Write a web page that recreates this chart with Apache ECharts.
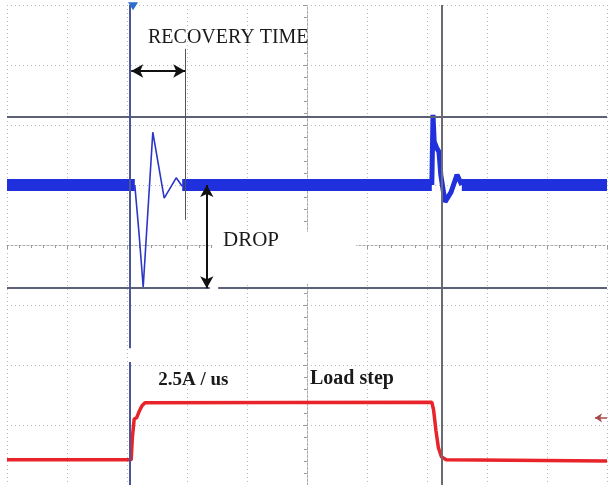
<!DOCTYPE html>
<html>
<head>
<meta charset="utf-8">
<script src="https://cdn.jsdelivr.net/npm/echarts@6/dist/echarts.min.js"></script>
<style>
html, body { margin: 0; padding: 0; background: #fff; }
#ec1 { width: 609px; height: 485px; }
</style>
</head>
<body>
<div id="ec1"></div>
<script>
// scope screen in divisions: x -5..5, y -4..4

// output voltage (blue), steady band
var vBandLeft = [[-5, 1.0], [-2.87, 1.0]];
var vBandMid = [[-2.08, 1.0], [2.08, 1.0]];
var vBandRight = [[2.58, 1.0], [5, 1.0]];
// output voltage transients
var vStepUp = [[-2.87, 1.0], [-2.80, 0.2], [-2.73, -0.70], [-2.57, 1.88], [-2.38, 0.78], [-2.18, 1.12], [-2.08, 0.98]];
var vStepDown = [[2.08, 1.0], [2.10, 2.17], [2.12, 1.72], [2.16, 1.62], [2.20, 1.55], [2.23, 1.17], [2.30, 0.72], [2.40, 0.88], [2.50, 1.17], [2.58, 1.0]];

// load current (red)
var iLoad = [[-5, -3.58], [-2.93, -3.58], [-2.91, -3.20], [-2.88, -2.90], [-2.84, -2.88], [-2.80, -2.78],
             [-2.75, -2.68], [-2.70, -2.63], [2.08, -2.62], [2.11, -2.75], [2.15, -3.10], [2.19, -3.38],
             [2.24, -3.53], [2.32, -3.58], [5, -3.60]];

// cursors
var cursorsX = [-2.95, 2.25];
var cursorsY = [2.13, -0.72];
var recoveryX = [-2.93, -2.03];
var recoveryY = 2.9;
var dropX = -1.67;
var dropY = [1.0, -0.72];

var labels = [
    {text: 'RECOVERY TIME', x: -2.65, y: 3.45, bold: false, size: 20},
    {text: 'DROP', x: -1.40, y: 0.08, bold: false, size: 21},
    {text: '2.5A / us', x: -2.48, y: -2.25, bold: true, size: 19},
    {text: 'Load step', x: 0.05, y: -2.23, bold: true, size: 20}
];

var myCharts = echarts.init(document.getElementById('ec1'));

var cursorLine = {color: '#5c6178', width: 2, type: 'solid'};

option = {
    backgroundColor: '#fff',
    animation: false,
    grid: {left: 7, right: 2, top: 5, bottom: 0},
    xAxis: {
        type: 'value', min: -5, max: 5, interval: 1,
        axisLabel: {show: false},
        axisLine: {show: true, onZero: true, lineStyle: {color: '#a8a8a8', type: [2, 2]}},
        axisTick: {show: true, length: 4, inside: false, lineStyle: {color: '#999'}},
        minorTick: {show: true, splitNumber: 5, length: 3, lineStyle: {color: '#999'}},
        splitLine: {show: true, lineStyle: {color: '#b8b8b8', type: [1, 3]}}
    },
    yAxis: {
        type: 'value', min: -4, max: 4, interval: 1,
        axisLabel: {show: false},
        axisLine: {show: true, onZero: true, lineStyle: {color: '#a8a8a8', type: [2, 2]}},
        axisTick: {show: true, length: 4, lineStyle: {color: '#999'}},
        minorTick: {show: true, splitNumber: 5, length: 3, lineStyle: {color: '#999'}},
        splitLine: {show: true, lineStyle: {color: '#b8b8b8', type: [1, 3]}}
    },
    series: [
        {
            // white box behind DROP label
            type: 'line', data: [], silent: true,
            markArea: {
                silent: true,
                itemStyle: {color: '#fff'},
                data: [[{coord: [-1.58, 0.22]}, {coord: [0.82, -0.65]}]]
            }
        },
        {
            type: 'line', data: [], silent: true,
            markLine: {
                silent: true, symbol: ['none', 'none'], label: {show: false},
                lineStyle: cursorLine,
                data: [
                    [{coord: [-5, cursorsY[0]]}, {coord: [5, cursorsY[0]]}],
                    [{coord: [-5, cursorsY[1]]}, {coord: [-1.62, cursorsY[1]]}],
                    [{coord: [-1.48, cursorsY[1]]}, {coord: [5, cursorsY[1]]}],
                    [{coord: [cursorsX[0], 4], lineStyle: {color: '#4b569a'}}, {coord: [cursorsX[0], -1.72]}],
                    [{coord: [cursorsX[0], -1.95], lineStyle: {color: '#4b569a'}}, {coord: [cursorsX[0], -4]}],
                    [{coord: [cursorsX[1], 4], lineStyle: {color: '#6a6a72'}}, {coord: [cursorsX[1], -4]}],
                    [{coord: [recoveryX[1], 3.27], lineStyle: {color: '#555', width: 1}}, {coord: [recoveryX[1], 0.42]}]
                ]
            }
        },
        {
            type: 'line', data: iLoad, showSymbol: false, smooth: false,
            lineStyle: {color: '#e8242a', width: 3.5}
        },
        {
            type: 'line', data: vBandLeft, showSymbol: false,
            lineStyle: {color: '#1f30dc', width: 12, cap: 'butt'}
        },
        {
            type: 'line', data: vBandMid, showSymbol: false,
            lineStyle: {color: '#1f30dc', width: 12, cap: 'butt'}
        },
        {
            type: 'line', data: vBandRight, showSymbol: false,
            lineStyle: {color: '#1f30dc', width: 12, cap: 'butt'}
        },
        {
            type: 'line', data: vStepUp, showSymbol: false,
            lineStyle: {color: '#2a36c8', width: 1.6}
        },
        {
            type: 'line', data: vStepDown, showSymbol: false,
            lineStyle: {color: '#1f30dc', width: 5}
        },
        {
            // arrows and markers
            type: 'line', data: [], silent: true,
            markLine: {
                silent: true, label: {show: false}, symbol: ['arrow', 'arrow'], symbolSize: [10, 12],
                lineStyle: {color: '#111', width: 2, type: 'solid'},
                data: [
                    [{coord: [recoveryX[0], recoveryY]}, {coord: [recoveryX[1], recoveryY]}],
                    [{coord: [dropX, dropY[0]]}, {coord: [dropX, dropY[1]]}],
                    [{coord: [5, -2.88], symbol: 'none', lineStyle: {color: '#a84a4a', width: 1.5}}, {coord: [4.8, -2.88], symbol: 'arrow', symbolSize: [7, 7]}]
                ]
            },
            markPoint: {
                silent: true, label: {show: false},
                data: [{coord: [-2.9, 3.98], symbol: 'triangle', symbolRotate: 180, symbolSize: [10, 8], itemStyle: {color: '#2a6fd0'}}]
            }
        }
    ]
};
myCharts.setOption(option);

var texts = labels.map(function (l) {
    var p = myCharts.convertToPixel({gridIndex: 0}, [l.x, l.y]);
    return {
        type: 'text', x: p[0], y: p[1], z: 100,
        style: {
            text: l.text, fill: '#1a1a1a', verticalAlign: 'middle', align: 'left',
            font: (l.bold ? 'bold ' : '') + l.size + 'px "Liberation Serif", serif'
        }
    };
});
myCharts.setOption({graphic: texts});
</script>
</body>
</html>
